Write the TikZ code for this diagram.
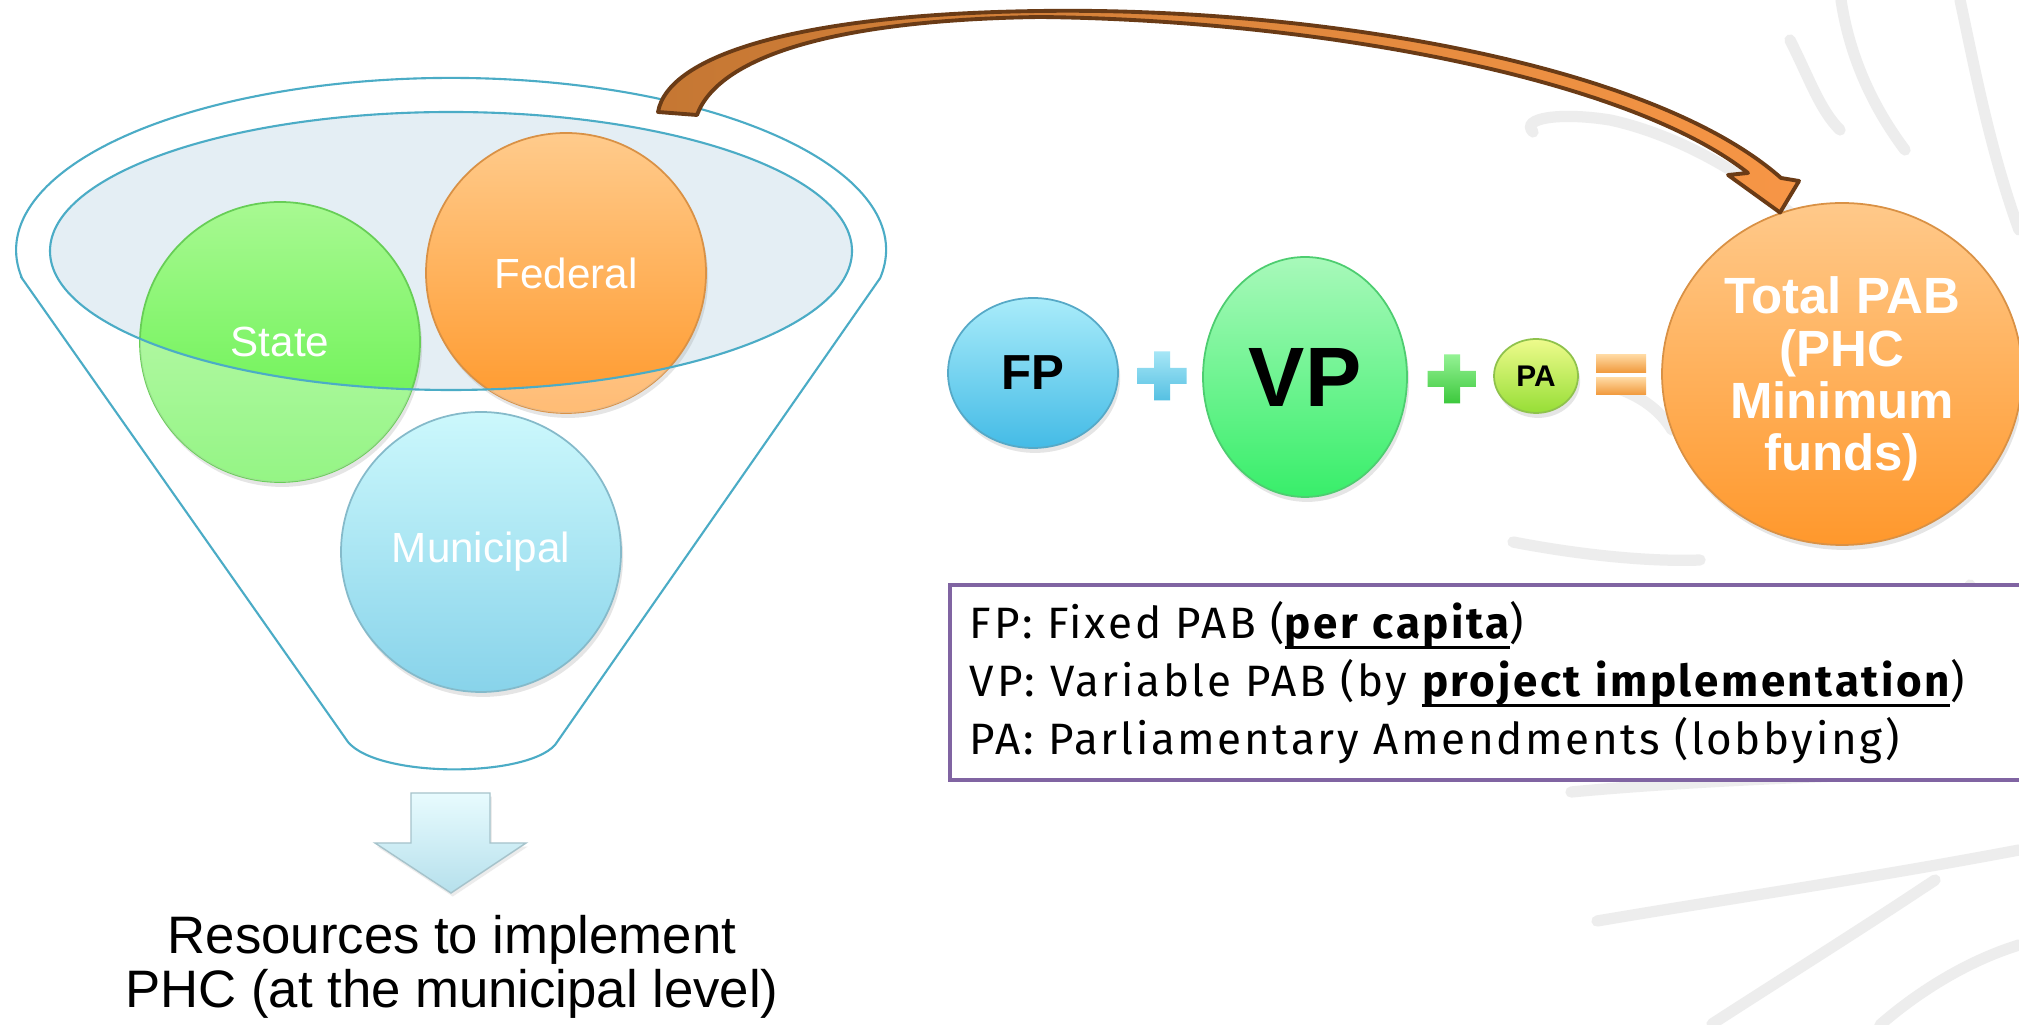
\documentclass[tikz,border=0pt]{standalone}
\usepackage{fontspec}
\usepackage{tikz}
\usetikzlibrary{shapes.geometric, shadows}
\newfontfamily\arialfont{Liberation Sans}
\newfontfamily\legendfont[LetterSpace=6]{Fira Sans}
\definecolor{funnelblue}{HTML}{4BACC6}
\definecolor{rimfill}{HTML}{E4EEF4}
\definecolor{stateA}{HTML}{A8F992}
\definecolor{stateB}{HTML}{5CF044}
\definecolor{fedA}{HTML}{FFCB8C}
\definecolor{fedB}{HTML}{FF992C}
\definecolor{munA}{HTML}{CCF8FC}
\definecolor{munB}{HTML}{88D3EA}
\definecolor{fpA}{HTML}{A9ECFA}
\definecolor{fpB}{HTML}{44BBE6}
\definecolor{vpA}{HTML}{A8F9BA}
\definecolor{vpB}{HTML}{38EE6A}
\definecolor{paA}{HTML}{EEFB8C}
\definecolor{paB}{HTML}{96DE36}
\definecolor{totA}{HTML}{FFC98A}
\definecolor{totB}{HTML}{FF982C}
\definecolor{plusblueA}{HTML}{A6E6F6}
\definecolor{plusblueB}{HTML}{55C0E2}
\definecolor{plusgreenA}{HTML}{94F294}
\definecolor{plusgreenB}{HTML}{3CC83C}
\definecolor{eqA}{HTML}{FFD8A0}
\definecolor{eqB}{HTML}{F0983A}
\definecolor{arrowbrown}{HTML}{6A3B16}
\definecolor{arrowtail}{HTML}{C57733}
\definecolor{arrowhead}{HTML}{F79646}
\definecolor{legendpurple}{HTML}{8064A2}
\definecolor{vinegray}{HTML}{EDEDED}
\definecolor{downA}{HTML}{E8FBFE}
\definecolor{downB}{HTML}{B6E0EC}
% fett und dick unterstrichen
\newcommand{\ulbold}[1]{\setbox0\hbox{\bfseries #1}\rlap{\rule[-3pt]{\wd0}{0.8pt}}\box0}

\begin{document}
\begin{tikzpicture}[x=0.1mm, y=-0.1mm, >=latex,
	ball/.style={ellipse, inner sep=0pt, line width=0.5pt,
		drop shadow={opacity=0.2, shadow xshift=0.6pt, shadow yshift=-1.4pt}},
	balltext/.style={text=white, font=\arialfont\fontsize{12}{14}\selectfont},
	eqtext/.style={font=\arialfont\bfseries\fontsize{#1}{#1}\selectfont},
	funnel/.style={draw=funnelblue, line width=0.6pt},
	vine/.style={draw=vinegray, line width=3.2pt, line cap=round}]
	%Bildbereich
	\fill[white] (0,0) rectangle (2019,1025);
	\clip (0,0) rectangle (2019,1025);
	%Ranken im Hintergrund
	\draw[vine] (1841,0) .. controls (1850,60) and (1875,110) .. (1905,150);
	\draw[vine] (1960,0) .. controls (1975,70) and (1990,150) .. (2019,230);
	\draw[vine] (1533,132) .. controls (1520,118) and (1560,112) .. (1610,120)
		.. controls (1680,135) and (1760,180) .. (1820,240);
	\draw[vine] (1790,40) .. controls (1810,80) and (1820,110) .. (1840,130);
	\draw[vine] (1610,386) .. controls (1640,395) and (1660,410) .. (1672,430);
	\draw[vine] (1513,542) .. controls (1580,555) and (1650,562) .. (1700,560);
	\draw[vine] (1571,792) .. controls (1700,780) and (1850,775) .. (2019,770);
	\draw[vine] (1597,921) .. controls (1720,900) and (1860,880) .. (2019,850);
	\draw[vine] (1712,1024) .. controls (1780,980) and (1860,930) .. (1935,880);
	\draw[vine] (1970,585) .. controls (1985,630) and (2000,680) .. (2019,720);
	\draw[vine] (1880,1025) .. controls (1920,990) and (1970,960) .. (2019,945);
	% Trichter
	\draw[funnel] (21.8,278) -- (348,742) .. controls (378,778) and (525,778) .. (555,745)
		-- (880.2,278) arc[start angle=9.4, end angle=-189.4, x radius=435, y radius=172] -- cycle;
	\fill[rimfill] (451,251) ellipse [x radius=401, y radius=139];
	% Kugeln im Trichter
	\node[ball, minimum width=2.8cm, minimum height=2.8cm, top color=stateA, bottom color=stateB,
		draw=stateB!70!gray, balltext] (state) at (280,342) {State};
	\node[ball, minimum width=2.8cm, minimum height=2.8cm, top color=fedA, bottom color=fedB,
		draw=fedB!70!gray, balltext] (federal) at (566,273) {Federal};
	\foreach \n in {state, federal} {
		\begin{scope}
			\clip (\n.center) circle [radius=140];
			\fill[white, opacity=0.35, even odd rule] (0,0) rectangle (2019,1025)
				(451,251) ellipse [x radius=401, y radius=139];
		\end{scope}
	}
	\draw[funnel] (451,251) ellipse [x radius=401, y radius=139];
	\node[ball, minimum width=2.8cm, minimum height=2.8cm, top color=munA, bottom color=munB,
		draw=munB!70!gray, balltext] (municipal) at (481,552) {Municipal};
	% Pfeil nach unten
	\shadedraw[top color=downA, bottom color=downB, draw=downB!70!gray, line width=0.4pt,
		drop shadow={opacity=0.15, shadow xshift=0.5pt, shadow yshift=-1pt}]
		(411,793) -- (490,793) -- (490,843) -- (526,843) -- (451,893) -- (375,843) -- (411,843) -- cycle;
	\node[align=center, inner sep=0pt, font=\arialfont\fontsize{15}{15.2}\selectfont] (resources) at (452,967)
		{Resources to implement\\PHC (at the municipal level)};
	% Gleichung
	\node[ball, minimum width=1.7cm, minimum height=1.5cm, top color=fpA, bottom color=fpB,
		draw=fpB!70!gray, eqtext=14] (fp) at (1033,373) {FP};
	\node[ball, minimum width=2.04cm, minimum height=2.4cm, top color=vpA, bottom color=vpB,
		draw=vpB!70!gray, eqtext=24] (vp) at (1305,377) {VP};
	\node[ball, minimum width=0.84cm, minimum height=0.74cm, top color=paA, bottom color=paB,
		draw=paB!70!gray, eqtext=8.5] (pa) at (1536,376) {PA};
	\node[ball, minimum width=3.6cm, minimum height=3.42cm, top color=totA, bottom color=totB,
		draw=totB!70!gray, text=white, align=center,
		font=\arialfont\bfseries\fontsize{14.5}{14.9}\selectfont] (total) at (1842,374)
		{\rule{0pt}{13.4pt}Total PAB\\(PHC\\Minimum\\funds)};
	% Plus und Gleich
	\foreach \cx/\cy/\ca/\cb in {1162/376/plusblueA/plusblueB, 1452/379/plusgreenA/plusgreenB} {
		\begin{scope}[shift={(\cx,\cy)}]
			\shade[top color=\ca, bottom color=\cb] (-8,-24.5) -- (8,-24.5) -- (8,-8) -- (24.5,-8)
				-- (24.5,8) -- (8,8) -- (8,24.5) -- (-8,24.5) -- (-8,8) -- (-24.5,8) -- (-24.5,-8)
				-- (-8,-8) -- cycle;
		\end{scope}
	}
	\foreach \ya/\yb in {355/373, 378/395}
		\shade[top color=eqA, bottom color=eqB] (1596,\ya) rectangle (1646,\yb);
	% Legende
	\node[draw=legendpurple, line width=1.1pt, fill=white, anchor=north west, inner xsep=0.2cm,
		text width=10.6cm, minimum height=1.95cm, align=left,
		font=\legendfont\fontsize{12.5}{16.5}\selectfont] (legend) at (948,583)
		{FP: Fixed PAB (\ulbold{per capita})\\
		 VP: Variable PAB (by \ulbold{project implementation})\\
		 PA: Parliamentary Amendments (lobbying)};
	% gebogener Pfeil vom Trichter zum Gesamt-PAB
	\coordinate (rimtail) at (658,112);
	\shadedraw[left color=arrowtail, right color=arrowhead, draw=arrowbrown, line width=1.1pt, line join=round]
		(rimtail) .. controls (668,55) and (800,14) .. (1040,11)
		.. controls (1310,7) and (1650,62) .. (1781,178)
		-- (1799,181) -- (total.111) -- (1728,175) -- (1748,173)
		.. controls (1625,76) and (1310,20) .. (1040,17)
		.. controls (830,20) and (718,58) .. (697,115) -- cycle;
\end{tikzpicture}
\end{document}
